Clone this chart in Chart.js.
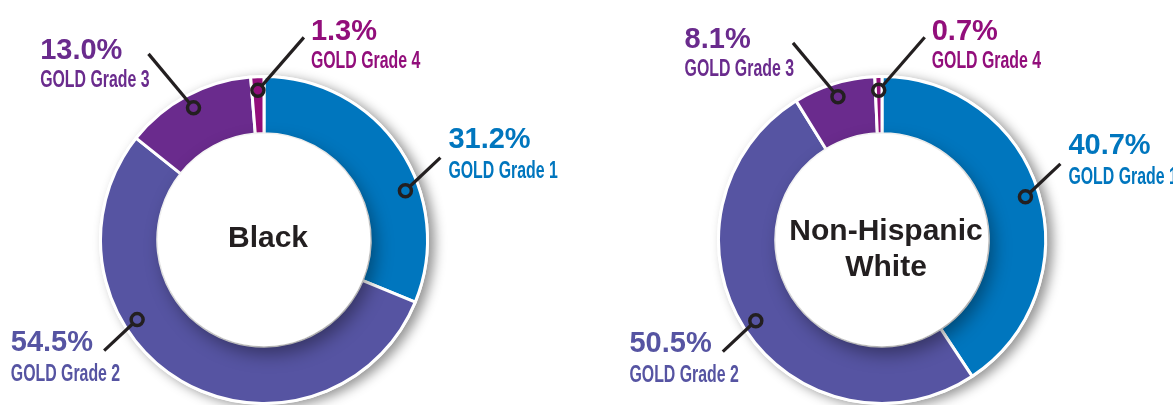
<!DOCTYPE html>
<html><head><meta charset="utf-8">
<script src="https://cdn.jsdelivr.net/npm/chart.js@4/dist/chart.umd.min.js"></script>
<style>
html,body{margin:0;padding:0;background:#fff;width:1173px;height:405px;overflow:hidden}
canvas{position:absolute;top:0}
#c1{left:0}
#c2{left:586px}
</style></head><body>
<canvas id="c1" width="586" height="405"></canvas>
<canvas id="c2" width="587" height="405"></canvas>
<script>
// ---- data ----
const categories = ['GOLD Grade 1', 'GOLD Grade 2', 'GOLD Grade 3', 'GOLD Grade 4'];
const blackValues = [31.2, 54.5, 13.0, 1.3];
const whiteValues = [40.7, 50.5, 8.1, 0.7];
const blackTitle = ['Black'];
const whiteTitle = ['Non-Hispanic', 'White'];

// ---- styles ----
const segmentColors = ['#0076BE', '#5654A2', '#6A2B8D', '#920E7B'];
const inkColor = '#231F20';
const FONT = '"Liberation Sans", Arial, sans-serif';
const CONDENSE = 0.69;

// callout leader vectors (per grade) and label placement rules
const leaderVec = [[35, -33], [-33, 31], [-45, -54], [46, -53]];
const labelRule = [
  {side: 'right', dx: 8, pctDy: -10, goldDy: 20},
  {side: 'left', dx: 16, pctDy: 0, goldDy: 30},
  {side: 'left', dx: 1, pctDy: 5, goldDy: 33},
  {side: 'right', dx: 7, pctDy: 3, goldDy: 31}
];

function decoPlugin(values, title, frac, titleBase) {
  return {
    id: 'deco',
    beforeDatasetsDraw(chart) {
      const a = chart.getDatasetMeta(0).data[0];
      const ctx = chart.ctx;
      ctx.save();
      ctx.shadowColor = 'rgba(0,0,0,0.42)';
      ctx.shadowBlur = 12;
      ctx.shadowOffsetX = 6;
      ctx.shadowOffsetY = 3;
      ctx.fillStyle = '#fff';
      ctx.beginPath();
      ctx.arc(a.x, a.y, a.outerRadius + 1.5, 0, Math.PI * 2);
      ctx.fill();
      ctx.restore();
    },
    afterDatasetsDraw(chart) {
      const arcs = chart.getDatasetMeta(0).data;
      const ctx = chart.ctx;
      const cx = arcs[0].x, cy = arcs[0].y;
      const R = arcs[0].outerRadius, r = arcs[0].innerRadius;

      // inner shadow cast by the raised centre disc
      ctx.save();
      ctx.beginPath();
      ctx.arc(cx, cy, R, 0, Math.PI * 2);
      ctx.arc(cx, cy, r, 0, Math.PI * 2, true);
      ctx.clip();
      ctx.shadowColor = 'rgba(0,0,0,0.38)';
      ctx.shadowBlur = 18;
      ctx.shadowOffsetX = 5;
      ctx.shadowOffsetY = 8;
      ctx.fillStyle = '#fff';
      ctx.beginPath();
      ctx.arc(cx, cy, r, 0, Math.PI * 2);
      ctx.fill();
      ctx.restore();

      // callouts
      const anchorR = r + 0.76 * (R - r);
      arcs.forEach((arc, i) => {
        const ang = arc.startAngle + frac[i] * (arc.endAngle - arc.startAngle);
        const ax = cx + anchorR * Math.cos(ang);
        const ay = cy + anchorR * Math.sin(ang);
        const [vx, vy] = leaderVec[i];
        const len = Math.hypot(vx, vy);
        const ex = ax + vx, ey = ay + vy;
        const cr = 6;
        ctx.save();
        ctx.strokeStyle = inkColor;
        ctx.lineWidth = 3.2;
        ctx.lineCap = 'butt';
        ctx.beginPath();
        ctx.moveTo(ax + vx / len * cr, ay + vy / len * cr);
        ctx.lineTo(ex, ey);
        ctx.stroke();
        ctx.lineWidth = 3.5;
        ctx.beginPath();
        ctx.arc(ax, ay, cr, 0, Math.PI * 2);
        ctx.stroke();
        ctx.restore();

        // labels
        const rule = labelRule[i];
        const pct = values[i].toFixed(1) + '%';
        const gold = categories[i];
        ctx.save();
        ctx.fillStyle = segmentColors[i];
        ctx.textBaseline = 'alphabetic';
        ctx.textAlign = 'left';
        ctx.font = 'bold 23px ' + FONT;
        const gw = ctx.measureText(gold).width * CONDENSE;
        const left = rule.side === 'right' ? ex + rule.dx : ex + rule.dx - gw;
        ctx.save();
        ctx.translate(left, ey + rule.goldDy);
        ctx.scale(CONDENSE, 1);
        ctx.fillText(gold, 0, 0);
        ctx.restore();
        ctx.font = 'bold 29px ' + FONT;
        ctx.fillText(pct, left, ey + rule.pctDy);
        ctx.restore();
      });

      // centre title
      ctx.save();
      ctx.fillStyle = inkColor;
      ctx.font = 'bold 30px ' + FONT;
      ctx.textAlign = 'center';
      ctx.textBaseline = 'alphabetic';
      title.forEach((t, k) => ctx.fillText(t, cx + 4, cy + titleBase + k * 36));
      ctx.restore();
    }
  };
}

function makeChart(id, values, title, padding, frac, titleBase) {
  return new Chart(document.getElementById(id), {
    type: 'doughnut',
    data: {
      labels: categories,
      datasets: [{
        data: values,
        backgroundColor: segmentColors,
        borderColor: '#ffffff',
        borderWidth: 3,
        hoverOffset: 0
      }]
    },
    options: {
      responsive: false,
      animation: false,
      devicePixelRatio: 1,
      cutout: '65%',
      rotation: 0,
      events: [],
      layout: {padding: padding},
      plugins: {legend: {display: false}, tooltip: {enabled: false}, title: {display: false}}
    },
    plugins: [decoPlugin(values, title, frac, titleBase)]
  });
}

makeChart('c1', blackValues, blackTitle, {left: 0, right: 58, top: 75, bottom: 0}, [0.63, 0.64, 0.5, 0.5], 7);
makeChart('c2', whiteValues, whiteTitle, {left: 100, right: 95, top: 75, bottom: 0}, [0.5, 0.5, 0.5, 0.5], 0);
</script>
</body></html>
